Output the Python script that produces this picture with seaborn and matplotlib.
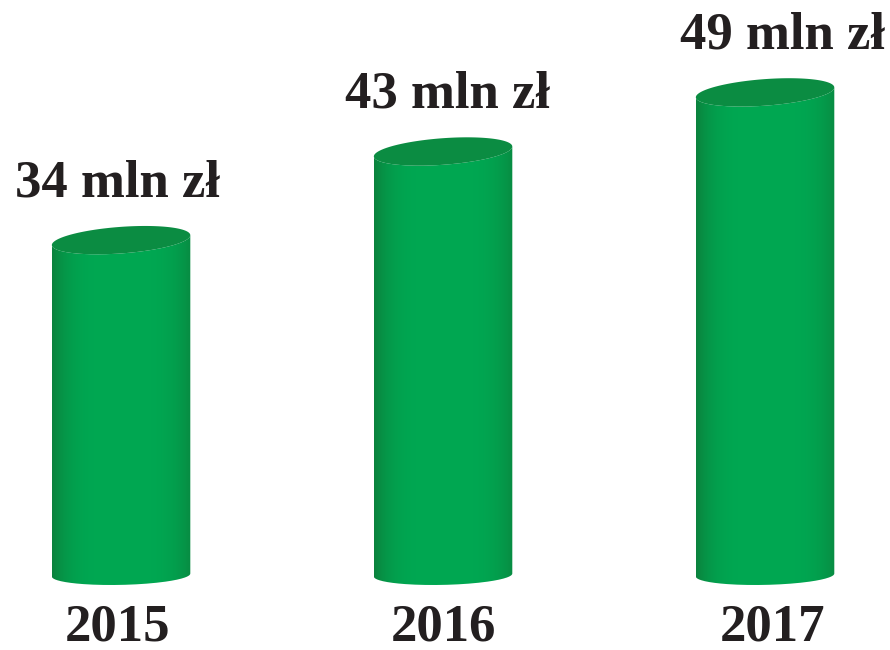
import numpy as np
import pandas as pd
import matplotlib
matplotlib.use("Agg")
import matplotlib.pyplot as plt
import seaborn as sns
from matplotlib.path import Path
from matplotlib.patches import PathPatch, Polygon

years = ["2015", "2016", "2017"]
values = [34, 43, 49]
value_labels = ["34 mln zł", "43 mln zł", "49 mln zł"]
label_dx_px = [-3.5, 4, 17.5]
year_dx_px = [-4, 0.5, 7.5]

df = pd.DataFrame({"year": years, "value": values})

sns.set_theme(style="white")
plt.rcParams["font.family"] = ["Liberation Serif", "DejaVu Serif"]

fig = plt.figure(figsize=(8.9, 6.5), dpi=100)
ax = fig.add_axes([0, 0, 1, 1])
sns.barplot(data=df, x="year", y="value", ax=ax, width=0.43,
            color="#00a44f", saturation=1)
ax.set_xlim(-0.376, 2.388)
ax.set_ylim(-7.61, 58.38)
ax.axis("off")

body_mid = np.array([0x00, 0xa8, 0x52]) / 255
body_edge = np.array([0x0b, 0x82, 0x3d]) / 255
top_col = "#0b8c42"

cap_h = 1.35      # semi-height of top ellipse in data units
cap_hb = 1.0      # semi-height of bottom ellipse
tilt = -1.0       # drop across bar width (data units), left lower

px2pt = 0.72
for i, bar in enumerate(ax.patches):
    x0 = bar.get_x(); w = bar.get_width(); h = bar.get_height()
    cx = x0 + w / 2
    bar.set_visible(False)
    t = np.linspace(0, np.pi, 80)
    xb = cx - (w / 2) * np.cos(t)
    yb = 0 - cap_hb * np.sin(t) - tilt * (xb - cx) / w * 0.3
    xt = cx + (w / 2) * np.cos(t)
    yt = h - cap_h * np.sin(t) - tilt * (xt - cx) / w
    verts = np.concatenate([np.column_stack([xb, yb]),
                            np.column_stack([xt, yt])])
    patch = PathPatch(Path(verts, closed=False), facecolor="none", edgecolor="none")
    ax.add_patch(patch)
    s = np.linspace(-1, 1, 256)
    wgt = np.clip(1 - np.abs(s) ** 4, 0, 1)
    wgt = np.where(s < 0, 1 - (1 - wgt) * 1.0, 1 - (1 - wgt) * 0.75)
    wgt = np.clip(wgt, 0, 1)
    grad = body_edge[None, :] * (1 - wgt[:, None]) + body_mid[None, :] * wgt[:, None]
    img = ax.imshow(grad[None, :, :], extent=[x0, x0 + w, -cap_h * 2, h + cap_h * 2],
                    aspect="auto", interpolation="bicubic", zorder=2)
    img.set_clip_path(patch)
    tt = np.linspace(0, 2 * np.pi, 160)
    xe = cx + (w / 2) * np.cos(tt)
    ye = h + cap_h * np.sin(tt) - tilt * (xe - cx) / w
    ax.add_patch(Polygon(np.column_stack([xe, ye]), closed=True,
                         facecolor=top_col, edgecolor="none", zorder=3))
    ax.annotate(value_labels[i], xy=(cx, h), xytext=(label_dx_px[i] * px2pt, 44 * px2pt),
                textcoords="offset points", ha="center", va="baseline",
                fontsize=38, fontweight="bold", color="#231f20", zorder=4)
    ax.annotate(years[i], xy=(cx, 0), xytext=(year_dx_px[i] * px2pt, -65 * px2pt),
                textcoords="offset points", ha="center", va="baseline",
                fontsize=38, fontweight="bold", color="#231f20", zorder=4)

fig.savefig("out.png", dpi=100, facecolor="white")
